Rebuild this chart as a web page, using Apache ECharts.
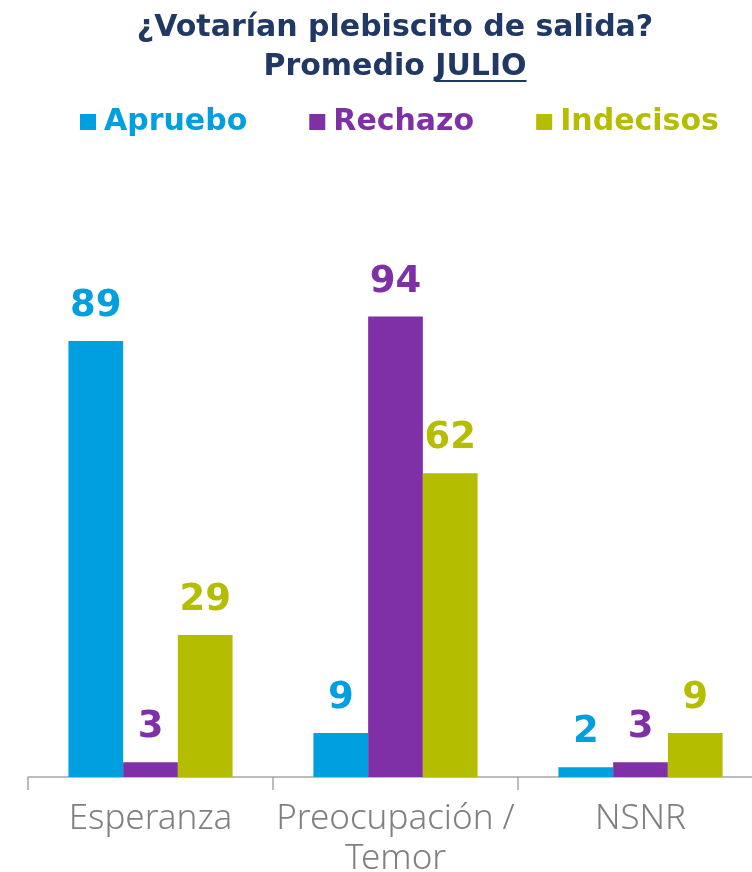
<!DOCTYPE html>
<html>
<head>
<meta charset="utf-8">
<script src="https://cdn.jsdelivr.net/npm/echarts@6/dist/echarts.min.js"></script>
<style>
  html, body { margin: 0; padding: 0; background: #fff; }
  #chart { width: 752px; height: 872px; }
</style>
</head>
<body>
<div id="chart"></div>
<script>
const categories = ['Esperanza', 'Preocupación /\nTemor', 'NSNR'];
const apruebo = [89, 9, 2];
const rechazo = [3, 94, 3];
const indecisos = [29, 62, 9];

const colors = { apruebo: '#009FE0', rechazo: '#7F30A6', indecisos: '#B5BD00' };
const boldFont = "'DejaVu Sans', sans-serif";
const lightFont = "'Noto Sans', sans-serif";
const titleSize = 30;
const titleCenter = 395;

const chart = echarts.init(document.getElementById('chart'));

const mkSeries = (name, data, color) => ({
  name: name,
  type: 'bar',
  data: data,
  barGap: 0,
  barCategoryGap: '33%',
  itemStyle: { color: color },
  label: {
    show: true,
    position: 'top',
    distance: 16,
    color: color,
    fontFamily: boldFont,
    fontWeight: 'bold',
    fontSize: 37
  }
});

// underline under "JULIO", placed from measured text widths
const ctx = document.createElement('canvas').getContext('2d');
ctx.font = 'bold ' + titleSize + 'px ' + boldFont;
const fullW = ctx.measureText('Promedio JULIO').width;
const preW = ctx.measureText('Promedio ').width;
const julioW = ctx.measureText('JULIO').width;
const ulX1 = titleCenter - fullW / 2 + preW;

chart.setOption({
  title: {
    text: '¿Votarían plebiscito de salida?\nPromedio JULIO',
    left: titleCenter,
    top: 9,
    padding: 0,
    textAlign: 'center',
    textStyle: {
      color: '#1F3864',
      fontFamily: boldFont,
      fontWeight: 'bold',
      fontSize: titleSize,
      lineHeight: 39
    }
  },
  legend: {
    top: 107,
    left: 80,
    icon: 'rect',
    padding: 0,
    itemWidth: 16,
    itemHeight: 16,
    itemGap: 62,
    textStyle: { fontFamily: boldFont, fontWeight: 'bold', fontSize: 30, padding: [0, 0, 0, 3] },
    data: [
      { name: 'Apruebo', textStyle: { color: colors.apruebo } },
      { name: 'Rechazo', textStyle: { color: colors.rechazo } },
      { name: 'Indecisos', textStyle: { color: colors.indecisos } }
    ]
  },
  grid: { left: 28, width: 735, top: 287, bottom: 95, outerBoundsMode: 'none', containLabel: false },
  xAxis: {
    type: 'category',
    data: categories,
    axisLine: { lineStyle: { color: '#A6A6A6', width: 1.5 } },
    axisTick: { show: true, interval: 0, length: 13, lineStyle: { color: '#A6A6A6', width: 1.5 } },
    axisLabel: {
      interval: 0,
      color: '#808080',
      fontFamily: lightFont,
      fontWeight: 300,
      fontSize: 35,
      lineHeight: 40,
      margin: 22
    }
  },
  yAxis: {
    type: 'value',
    min: 0,
    max: 100,
    show: false
  },
  series: [
    mkSeries('Apruebo', apruebo, colors.apruebo),
    mkSeries('Rechazo', rechazo, colors.rechazo),
    mkSeries('Indecisos', indecisos, colors.indecisos)
  ],
  graphic: [{
    type: 'line',
    shape: { x1: ulX1, y1: 81, x2: ulX1 + julioW, y2: 81 },
    style: { stroke: '#1F3864', lineWidth: 2 }
  }]
});
</script>
</body>
</html>
